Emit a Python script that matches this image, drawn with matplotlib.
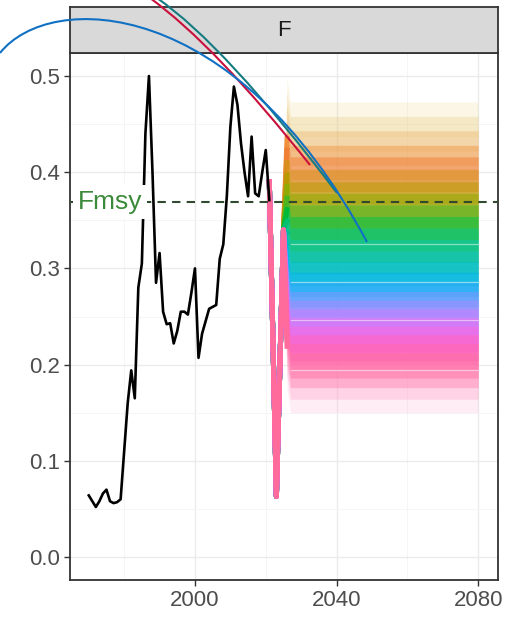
import numpy as np
import matplotlib.pyplot as plt
from matplotlib.path import Path
from matplotlib.patches import PathPatch

# historical F
years = list(range(1970, 2022))
f_hist = [0.064, 0.058, 0.052, 0.058, 0.066, 0.070, 0.058, 0.056, 0.057, 0.060,
          0.110, 0.160, 0.194, 0.165, 0.280, 0.305, 0.440, 0.500, 0.400, 0.285,
          0.316, 0.255, 0.242, 0.243, 0.222, 0.235, 0.255, 0.255, 0.252, 0.275,
          0.300, 0.207, 0.232, 0.245, 0.258, 0.260, 0.262, 0.310, 0.325, 0.375,
          0.447, 0.489, 0.470, 0.430, 0.400, 0.375, 0.437, 0.378, 0.375, 0.400,
          0.423, 0.371]

fmsy = 0.369

# projections: one band per colour group
proj_years = [2021, 2022, 2023, 2024, 2025, 2026, 2027, 2080]
dip = [0.39, 0.23, 0.063, 0.20, 0.34]
levels = [0.455, 0.44, 0.425, 0.41, 0.398, 0.385, 0.372, 0.36, 0.348, 0.336,
          0.324, 0.312, 0.300, 0.289, 0.278, 0.268, 0.258, 0.249, 0.240, 0.231,
          0.222, 0.213, 0.204, 0.194, 0.182, 0.168]
colours = ["#EDD890", "#E8C470", "#EAAE58", "#F0913E", "#EE7F35", "#D8901A",
           "#B89A00", "#8FAA00", "#4DB520", "#00BA38", "#00C070", "#00C094",
           "#00BFB0", "#00BDD0", "#00B4EF", "#30A4FF", "#7C96FF", "#A58AFF",
           "#C77CFF", "#E36EF0", "#F564E3", "#FF5FC0", "#FF62A8", "#FF6C9C",
           "#FF90BC", "#FFB0D4"]
alphas = [0.22, 0.28, 0.35, 0.45, 0.5, 0.55, 0.55, 0.55, 0.55, 0.55, 0.55, 0.55,
          0.55, 0.55, 0.55, 0.55, 0.55, 0.55, 0.55, 0.55, 0.55, 0.55, 0.5, 0.45,
          0.3, 0.22]
white_lines = [0.325, 0.286, 0.246, 0.194]

fig = plt.figure(figsize=(5.08, 6.17), dpi=100)
plt.rcParams["font.family"] = ["Liberation Sans", "DejaVu Sans"]
W, H = 508, 617

ax = fig.add_axes([70 / W, 1 - 580 / H, 428 / W, 527 / H])
ax.set_xlim(1964.7, 2085.6)
ax.set_ylim(-0.0239, 0.5239)

ax.set_xticks([2000, 2040, 2080])
ax.set_xticks([1980, 2020, 2060], minor=True)
ax.set_yticks([0.0, 0.1, 0.2, 0.3, 0.4, 0.5])
ax.set_yticks([0.05, 0.15, 0.25, 0.35, 0.45], minor=True)
ax.set_yticklabels(["0.0", "0.1", "0.2", "0.3", "0.4", "0.5"])
ax.grid(which="major", color="#EBEBEB", lw=1.0)
ax.grid(which="minor", color="#F4F4F4", lw=0.6)
ax.set_axisbelow(True)
ax.tick_params(which="major", length=4, width=1, color="#333333",
               labelcolor="#4D4D4D", labelsize=16, pad=3)
ax.tick_params(which="minor", length=0)
for s in ax.spines.values():
    s.set_color("#333333")
    s.set_linewidth(1.3)

for lvl, col, a in zip(levels, colours, alphas):
    vals = dip + [lvl + 0.025, lvl, lvl]
    lo = [v - 0.018 for v in vals]
    hi = [v + 0.018 for v in vals]
    ax.fill_between(proj_years[4:], lo[4:], hi[4:], color=col, alpha=a, lw=0)

# the common dip right after 2021, strong colours only
for lvl, col, a in zip(levels, colours, alphas):
    if a < 0.4:
        continue
    vals = dip + [lvl + 0.025]
    ax.plot(proj_years[:6], vals, color=col, lw=3.6, solid_joinstyle="round")

for w in white_lines:
    ax.plot([2027, 2080], [w, w], color="white", lw=0.9, alpha=0.5)

ax.plot(years, f_hist, color="black", lw=1.9, zorder=5)
ax.axhline(fmsy, color="#2F4A2F", lw=1.5, ls=(0, (4, 3)), zorder=6)
ax.text(1976, fmsy, "Fmsy", color="#3A8A3A", fontsize=19, ha="center",
        va="center", zorder=7,
        bbox=dict(boxstyle="square,pad=0.18", fc="white", ec="none"))

# facet strip
sx = fig.add_axes([70 / W, 1 - 53 / H, 428 / W, 46 / H])
sx.set_facecolor("#D9D9D9")
sx.set_xticks([])
sx.set_yticks([])
for s in sx.spines.values():
    s.set_color("#333333")
    s.set_linewidth(1.3)
sx.text(0.5, 0.5, "F", ha="center", va="center", fontsize=16, color="#1A1A1A",
        transform=sx.transAxes)


# overlaid curved pointer lines
def px(x, y):
    return (x / W, 1 - y / H)


curves = [
    ([(150, -2), (215, 45), (310, 165)], "#C8103C", Path.CURVE3),
    ([(157, -2), (225, 45), (337, 193)], "#147C80", Path.CURVE3),
    ([(0, 53), (50, -10), (235, -5), (367, 242)], "#1070C4", Path.CURVE4),
]
for pts, col, kind in curves:
    codes = [Path.MOVETO] + [kind] * (len(pts) - 1)
    path = Path([px(*p) for p in pts], codes)
    fig.add_artist(PathPatch(path, fc="none", ec=col, lw=1.5,
                             transform=fig.transFigure, zorder=20))

fig.savefig("out.png", dpi=100)
